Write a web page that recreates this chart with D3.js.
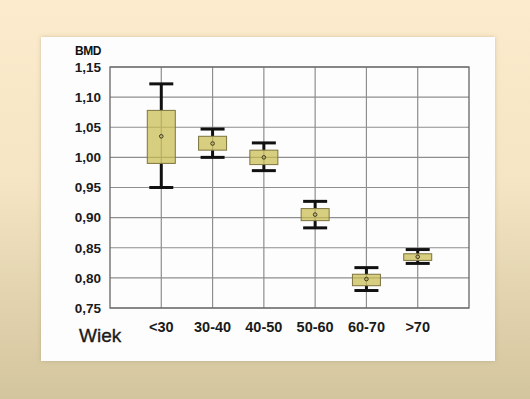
<!DOCTYPE html>
<html lang="en">
<head>
<meta charset="UTF-8">
<title>BMD</title>
<script src="https://cdn.jsdelivr.net/npm/d3@7"></script>
<style>
  html, body { margin: 0; padding: 0; }
  body { width: 530px; height: 399px; overflow: hidden; }
  text { font-family: "Liberation Sans", Arial, sans-serif; }
</style>
</head>
<body>
<div id="chart"></div>
<script>
// data
const categories = ["<30", "30-40", "40-50", "50-60", "60-70", ">70"];
const whiskerHigh = [1.122, 1.047, 1.024, 0.927, 0.817, 0.847];
const boxHigh     = [1.078, 1.035, 1.012, 0.915, 0.806, 0.840];
const means       = [1.035, 1.023, 1.000, 0.905, 0.798, 0.835];
const boxLow      = [0.990, 1.012, 0.988, 0.895, 0.787, 0.829];
const whiskerLow  = [0.950, 1.000, 0.978, 0.883, 0.779, 0.824];
const yTicks = [0.75, 0.80, 0.85, 0.90, 0.95, 1.00, 1.05, 1.10, 1.15];

const data = categories.map((c, i) => ({
  cat: c, wh: whiskerHigh[i], bh: boxHigh[i], m: means[i], bl: boxLow[i], wl: whiskerLow[i]
}));

const W = 530, H = 399;
const svg = d3.select("#chart").append("svg")
  .attr("width", W).attr("height", H);

// background gradient
const defs = svg.append("defs");
const grad = defs.append("linearGradient").attr("id", "bg")
  .attr("x1", 0).attr("y1", 0).attr("x2", 0).attr("y2", 1);
grad.append("stop").attr("offset", "0%").attr("stop-color", "#fcebcc");
grad.append("stop").attr("offset", "45%").attr("stop-color", "#f5e5c4");
grad.append("stop").attr("offset", "100%").attr("stop-color", "#d3c59d");
const shadow = defs.append("filter").attr("id", "shadow")
  .attr("x", "-5%").attr("y", "-5%").attr("width", "110%").attr("height", "110%");
shadow.append("feDropShadow").attr("dx", 0).attr("dy", 0)
  .attr("stdDeviation", 2).attr("flood-color", "#8a7a50").attr("flood-opacity", 0.35);

svg.append("rect").attr("width", W).attr("height", H).attr("fill", "url(#bg)");

// white panel
svg.append("rect")
  .attr("x", 41).attr("y", 37).attr("width", 454).attr("height", 324)
  .attr("fill", "#fdfdfd").attr("filter", "url(#shadow)");

// plot area
const plot = { left: 110, right: 469, top: 67, bottom: 308 };

const y = d3.scaleLinear().domain([0.75, 1.15]).range([plot.bottom, plot.top]);
const x = d3.scalePoint().domain(categories)
  .range([plot.left, plot.right]).padding(1);

const g = svg.append("g");

// horizontal grid
g.selectAll("line.hgrid").data(yTicks).enter().append("line")
  .attr("class", "hgrid")
  .attr("x1", plot.left).attr("x2", plot.right)
  .attr("y1", d => y(d)).attr("y2", d => y(d))
  .attr("stroke", "#8e8e8e").attr("stroke-width", 1.2);

// vertical grid
g.selectAll("line.vgrid").data(categories).enter().append("line")
  .attr("class", "vgrid")
  .attr("x1", d => x(d)).attr("x2", d => x(d))
  .attr("y1", plot.top).attr("y2", plot.bottom)
  .attr("stroke", "#8e8e8e").attr("stroke-width", 1.2);

// frame
g.append("rect")
  .attr("x", plot.left).attr("y", plot.top)
  .attr("width", plot.right - plot.left).attr("height", plot.bottom - plot.top)
  .attr("fill", "none").attr("stroke", "#666").attr("stroke-width", 1.3);

// y tick labels
g.selectAll("text.ytick").data(yTicks).enter().append("text")
  .attr("class", "ytick")
  .attr("x", 101).attr("y", d => y(d))
  .attr("dy", "0.36em")
  .attr("text-anchor", "end")
  .attr("font-size", 13.5).attr("font-weight", "bold").attr("fill", "#1a1a1a")
  .text(d => d3.format(".2f")(d).replace(".", ","));

// x labels
g.selectAll("text.xtick").data(categories).enter().append("text")
  .attr("class", "xtick")
  .attr("x", d => x(d)).attr("y", 332)
  .attr("text-anchor", "middle")
  .attr("font-size", 14.5).attr("font-weight", "bold").attr("fill", "#1a1a1a")
  .text(d => d);

svg.append("text").attr("x", 75).attr("y", 55)
  .attr("font-size", 12).attr("font-weight", "bold").attr("fill", "#111")
  .attr("letter-spacing", -0.5)
  .text("BMD");

svg.append("text").attr("x", 79).attr("y", 342)
  .attr("font-size", 19).attr("fill", "#1a1a1a")
  .attr("stroke", "#1a1a1a").attr("stroke-width", 0.35)
  .text("Wiek");

// boxes
const capW = 24, boxW = 28;
const box = g.selectAll("g.box").data(data).enter().append("g").attr("class", "box");

box.append("line")
  .attr("x1", d => x(d.cat)).attr("x2", d => x(d.cat))
  .attr("y1", d => y(d.wh)).attr("y2", d => y(d.bh))
  .attr("stroke", "#111").attr("stroke-width", 3);
box.append("line")
  .attr("x1", d => x(d.cat)).attr("x2", d => x(d.cat))
  .attr("y1", d => y(d.bl)).attr("y2", d => y(d.wl))
  .attr("stroke", "#111").attr("stroke-width", 3);
box.append("line")
  .attr("x1", d => x(d.cat) - capW / 2).attr("x2", d => x(d.cat) + capW / 2)
  .attr("y1", d => y(d.wh)).attr("y2", d => y(d.wh))
  .attr("stroke", "#111").attr("stroke-width", 3);
box.append("line")
  .attr("x1", d => x(d.cat) - capW / 2).attr("x2", d => x(d.cat) + capW / 2)
  .attr("y1", d => y(d.wl)).attr("y2", d => y(d.wl))
  .attr("stroke", "#111").attr("stroke-width", 3);

box.append("rect")
  .attr("x", d => x(d.cat) - boxW / 2).attr("width", boxW)
  .attr("y", d => y(d.bh)).attr("height", d => y(d.bl) - y(d.bh))
  .attr("fill", "#c9bb4e").attr("fill-opacity", 0.72)
  .attr("stroke", "#7d7440").attr("stroke-width", 1);

box.append("circle")
  .attr("cx", d => x(d.cat)).attr("cy", d => y(d.m)).attr("r", 1.8)
  .attr("fill", "none").attr("stroke", "#3a3520").attr("stroke-width", 1);
</script>
</body>
</html>
